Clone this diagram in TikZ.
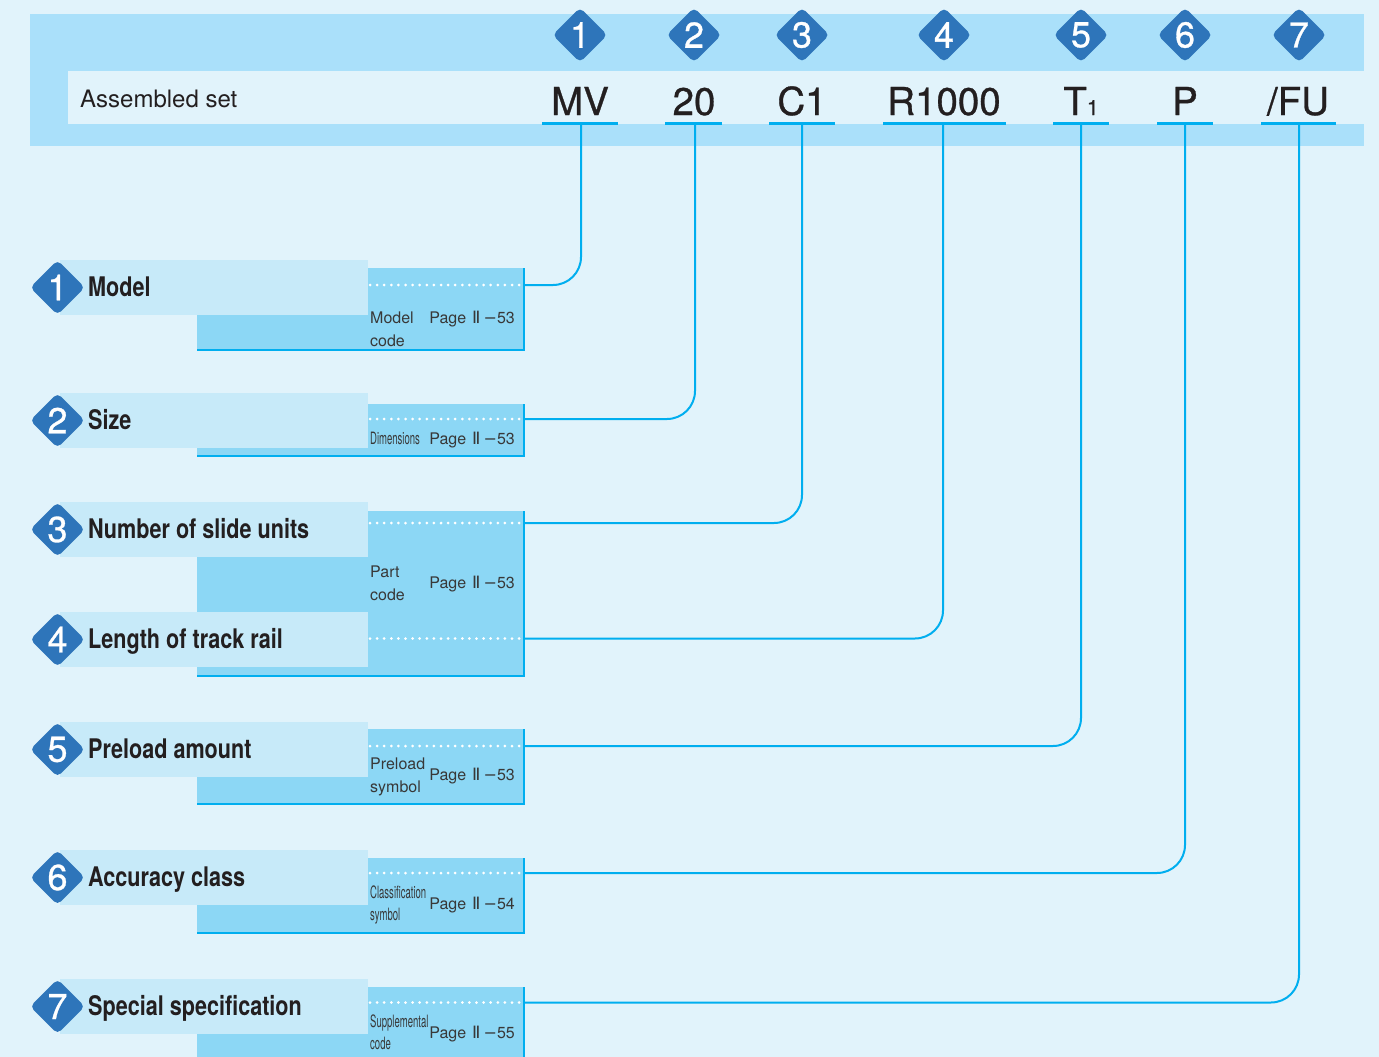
\documentclass[tikz,border=0pt]{standalone}
\usepackage{fontspec}
\setmainfont{TeX Gyre Heros}
\newfontfamily\condfont[FakeStretch=0.8]{TeX Gyre Heros}
\newfontfamily\slimfont[FakeStretch=0.56]{TeX Gyre Heros}
\newfontfamily\codefont[FakeBold=0.8]{TeX Gyre Heros}
\newfontfamily\romfont{DejaVu Sans}
\usetikzlibrary{shapes.geometric}
\usetikzlibrary{calc}

\definecolor{paleblue}{HTML}{E1F3FB}
\definecolor{bandblue}{HTML}{AAE0FA}
\definecolor{tabblue}{HTML}{C7EAF9}
\definecolor{boxblue}{HTML}{8CD7F5}
\definecolor{lineblue}{HTML}{00AEEF}
\definecolor{markblue}{HTML}{2E75BA}
\definecolor{inkgray}{HTML}{231F20}
\definecolor{notegray}{HTML}{383838}

\newcommand{\pg}[1]{Page\hspace{6pt}{\romfont\fontsize{17}{17}\selectfont Ⅱ}\hspace{3pt}{\romfont −}#1}

\tikzset{
  numdia/.style={shape=diamond, fill=markblue, rounded corners=5pt, minimum width=55pt,
    minimum height=55pt, inner sep=0pt, text=white, font=\codefont\fontsize{36}{36}\selectfont},
  codetext/.style={anchor=base, inner sep=0pt, text=inkgray, font=\codefont\fontsize{38.5}{38.5}\selectfont},
  itemtext/.style={anchor=base west, inner sep=0pt, text=inkgray, font=\condfont\bfseries\fontsize{27}{27}\selectfont},
  subtext/.style={anchor=base west, inner sep=0pt, text=notegray, font=\fontsize{16}{16}\selectfont},
  slimtext/.style={anchor=base west, inner sep=0pt, text=notegray, font=\slimfont\fontsize{17}{17}\selectfont},
  pagetext/.style={anchor=base east, inner sep=0pt, text=notegray, font=\fontsize{16}{16}\selectfont},
  uline/.style={lineblue, line width=3pt},
  edge/.style={lineblue, line width=2.6pt},
  conn/.style={lineblue, line width=2pt, rounded corners=28pt},
  dots/.style={white, line width=3pt, line cap=round, dash pattern=on 0pt off 7.1pt},
  tab/.style={fill=tabblue},
  panel/.style={fill=boxblue}
}

\begin{document}
\begin{tikzpicture}[x=1pt, y=-1pt]
  \fill[paleblue] (0,0) rectangle (1379,1057);
  \useasboundingbox (0,0) rectangle (1379,1057);

  % header
  \fill[bandblue] (30,14) rectangle (1364,146);
  \fill[paleblue] (68,71) rectangle (1364,124);
  \node[anchor=base west, inner sep=0pt, text=inkgray, font=\fontsize{24}{24}\selectfont] (title) at (80,107) {Assembled set};
  \foreach \n/\x in {1/580, 2/694, 3/802, 4/944, 5/1081, 6/1185, 7/1299}
    \node[numdia] (h\n) at (\x,35) {\n};
  \node[codetext] (cMV) at (580,115) {MV};
  \node[codetext] (c20) at (694,115) {20};
  \node[codetext] (cC1) at (802,115) {C1};
  \node[codetext] (cR) at (944,115) {R1000};
  \node[codetext] (cT) at (1081,115) {T{\fontsize{21}{21}\selectfont 1}};
  \node[codetext] (cP) at (1185,115) {P};
  \node[codetext] (cFU) at (1298,115) {/FU};
  \draw[uline] (542,123.5) -- (618,123.5);
  \draw[uline] (665,123.5) -- (722,123.5);
  \draw[uline] (769,123.5) -- (835,123.5);
  \draw[uline] (883,123.5) -- (1006,123.5);
  \draw[uline] (1053,123.5) -- (1109,123.5);
  \draw[uline] (1157,123.5) -- (1213,123.5);
  \draw[uline] (1261,123.5) -- (1336,123.5);
  \coordinate (u1) at (581,123.5);
  \coordinate (u2) at (695,123.5);
  \coordinate (u3) at (802,123.5);
  \coordinate (u4) at (943,123.5);
  \coordinate (u5) at (1081,123.5);
  \coordinate (u6) at (1185,123.5);
  \coordinate (u7) at (1299,123.5);

  % 1 model
  \fill[panel] (197,268) rectangle (524,351);
  \draw[edge] (197,350) -- (524,350) -- (524,268);
  \fill[tab] (60,260) rectangle (368,315);
  \node[numdia] (n1) at (57.5,287.5) {1};
  \node[itemtext] (t1) at (88,296) {Model};
  \draw[dots] (370,285) -- (520,285);
  \coordinate (e1) at (524,285);
  \node[subtext] (k1) at (370,323) {Model};
  \node[subtext] (k1b) at (370,346) {code};
  \node[pagetext] (p1) at (515,323) {\pg{53}};

  % 2 size
  \fill[panel] (197,404) rectangle (524,457);
  \draw[edge] (197,456) -- (524,456) -- (524,404);
  \fill[tab] (60,393) rectangle (368,448);
  \node[numdia] (n2) at (57.5,420.5) {2};
  \node[itemtext] (t2) at (88,429) {Size};
  \draw[dots] (370,419) -- (520,419);
  \coordinate (e2) at (524,419);
  \node[slimtext] (k2) at (370,444) {Dimensions};
  \node[pagetext] (p2) at (515,444) {\pg{53}};

  % 3, 4 slide units and rail length
  \fill[panel] (197,511) rectangle (524,677);
  \draw[edge] (197,676) -- (524,676) -- (524,511);
  \fill[tab] (60,502) rectangle (368,557);
  \fill[tab] (60,612) rectangle (368,667);
  \node[numdia] (n3) at (57.5,529.5) {3};
  \node[numdia] (n4) at (57.5,639.5) {4};
  \node[itemtext] (t3) at (88,538) {Number of slide units};
  \node[itemtext] (t4) at (88,648) {Length of track rail};
  \draw[dots] (370,523) -- (520,523);
  \draw[dots] (370,638.5) -- (520,638.5);
  \coordinate (e3) at (524,523);
  \coordinate (e4) at (524,638.5);
  \node[subtext] (k3) at (370,577) {Part};
  \node[subtext] (k3b) at (370,600) {code};
  \node[pagetext] (p3) at (515,588) {\pg{53}};

  % 5 preload
  \fill[panel] (197,729) rectangle (524,805);
  \draw[edge] (197,804) -- (524,804) -- (524,729);
  \fill[tab] (60,722) rectangle (368,777);
  \node[numdia] (n5) at (57.5,749.5) {5};
  \node[itemtext] (t5) at (88,758) {Preload amount};
  \draw[dots] (370,746) -- (520,746);
  \coordinate (e5) at (524,746);
  \node[subtext] (k5) at (370,769) {Preload};
  \node[subtext] (k5b) at (370,792) {symbol};
  \node[pagetext] (p5) at (515,780) {\pg{53}};

  % 6 accuracy
  \fill[panel] (197,858) rectangle (524,934);
  \draw[edge] (197,933) -- (524,933) -- (524,858);
  \fill[tab] (60,850) rectangle (368,905);
  \node[numdia] (n6) at (57.5,877.5) {6};
  \node[itemtext] (t6) at (88,886) {Accuracy class};
  \draw[dots] (370,873) -- (520,873);
  \coordinate (e6) at (524,873);
  \node[slimtext] (k6) at (370,898) {Classification};
  \node[slimtext] (k6b) at (370,920) {symbol};
  \node[pagetext] (p6) at (515,909) {\pg{54}};

  % 7 special
  \fill[panel] (197,987) rectangle (524,1060);
  \draw[edge] (524,1060) -- (524,987);
  \fill[tab] (60,979) rectangle (368,1034);
  \node[numdia] (n7) at (57.5,1006.5) {7};
  \node[itemtext] (t7) at (88,1015) {Special specification};
  \draw[dots] (370,1002.5) -- (520,1002.5);
  \coordinate (e7) at (524,1002.5);
  \node[slimtext] (k7) at (370,1027) {Supplemental};
  \node[slimtext] (k7b) at (370,1049) {code};
  \node[pagetext] (p7) at (515,1038) {\pg{55}};

  % connectors
  \draw[conn] (e1) -| (u1);
  \draw[conn] (e2) -| (u2);
  \draw[conn] (e3) -| (u3);
  \draw[conn] (e4) -| (u4);
  \draw[conn] (e5) -| (u5);
  \draw[conn] (e6) -| (u6);
  \draw[conn] (e7) -| (u7);
\end{tikzpicture}
\end{document}
